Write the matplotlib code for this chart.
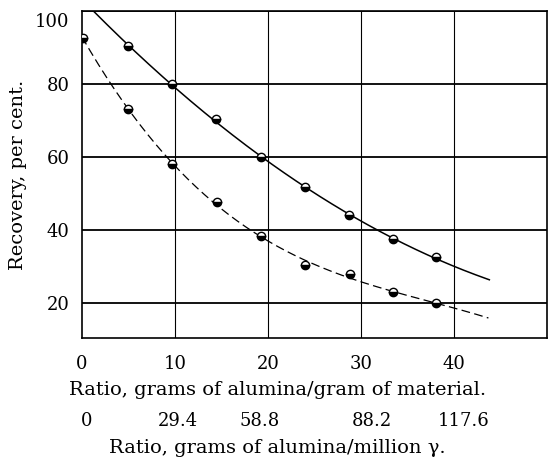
import numpy as np
import matplotlib
matplotlib.use("Agg")
import matplotlib.pyplot as plt
from matplotlib.transforms import blended_transform_factory, offset_copy

# Data
x_solid = [4.9, 9.7, 14.4, 19.2, 24.0, 28.7, 33.4, 38.1]
y_solid = [90.4, 80.0, 70.4, 60.0, 51.8, 44.1, 37.5, 32.6]
x_dashed = [0.1, 4.9, 9.7, 14.5, 19.2, 24.0, 28.8, 33.4, 38.1]
y_dashed = [92.6, 73.2, 58.1, 47.7, 38.4, 30.4, 28.0, 23.0, 20.0]

xticks = [0, 10, 20, 30, 40]
yticks = [20, 40, 60, 80, 100]
second_labels = ["0", "29.4", "58.8", "88.2", "117.6"]
second_pos = [0.5, 10.3, 19.1, 31.2, 41.0]

plt.rcParams['font.family'] = ['DejaVu Serif']

fig = plt.figure(figsize=(5.48, 4.57), dpi=100)
ax = fig.add_axes([0.1496, 0.2604, 0.8486, 0.7155])

ax.set_xlim(0, 50)
ax.set_ylim(10.5, 100)

# grid
for yv in yticks:
    ax.axhline(yv, color='black', lw=1.3, zorder=1)
for xv in xticks[1:]:
    ax.axvline(xv, color='black', lw=0.8, zorder=1)

# fitted curves from the data points
cs = np.polyfit(x_solid, y_solid, 2)
xs = np.linspace(1.2, 43.8, 200)
ax.plot(xs, np.polyval(cs, xs), color='black', lw=1.1, zorder=2)

cd = np.polyfit(x_dashed, y_dashed, 3)
xd = np.linspace(0.0, 43.7, 200)
ax.plot(xd, np.polyval(cd, xd), color='black', lw=0.9, ls=(0, (7, 3.5)), zorder=2)

mk = dict(marker='o', ls='none', markersize=6, fillstyle='bottom',
          markerfacecolor='black', markerfacecoloralt='white',
          markeredgecolor='black', markeredgewidth=1.0, zorder=3)
ax.plot(x_solid, y_solid, **mk)
ax.plot(x_dashed, y_dashed, **mk)

for s in ax.spines.values():
    s.set_linewidth(1.2)

ax.set_xticks(xticks)
ax.set_yticks(yticks)
ax.tick_params(length=0, labelsize=13, pad=12)
ax.tick_params(axis='y', pad=9)

# shift the "100" label slightly down as in the original typesetting
lab100 = ax.get_yticklabels()[-1]
lab100.set_transform(offset_copy(lab100.get_transform(), fig=fig, x=0, y=-9, units='dots'))

ax.set_ylabel("Recovery, per cent.", fontsize=14)
ax.yaxis.set_label_coords(-0.118, 0.5)

tr = blended_transform_factory(ax.transData, ax.transAxes)
ax.text(21, -0.16, "Ratio, grams of alumina/gram of material.", transform=tr,
        ha='center', va='center', fontsize=14)
for p, lab in zip(second_pos, second_labels):
    ax.text(p, -0.255, lab, transform=tr, ha='center', va='center', fontsize=13)
ax.text(21, -0.335, "Ratio, grams of alumina/million \u03b3.", transform=tr,
        ha='center', va='center', fontsize=14)

fig.savefig("out.png", dpi=100)
